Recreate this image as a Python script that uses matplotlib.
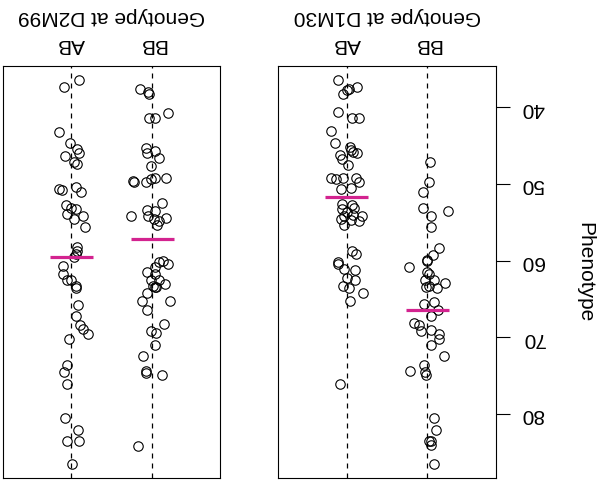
import numpy as np
import matplotlib
matplotlib.use("Agg")
import matplotlib.pyplot as plt

plt.rcParams['font.family'] = ['Liberation Sans', 'DejaVu Sans']

# -----------------------------
# Data (phenotype + horizontal jitter per genotype)
# -----------------------------
genotypes = ['AB', 'BB']
y_ticks = [40, 50, 60, 70, 80]

d2m99_ab = [36.4, 37.4, 43.2, 44.7, 45.4, 46.0, 46.4, 47.1, 47.4, 50.7, 50.8, 50.4,
            51.1, 52.8, 53.1, 53.3, 53.9, 54.2, 54.6, 55.6, 58.3, 58.7, 59.1, 59.5,
            60.7, 61.7, 62.6, 62.5, 63.3, 63.6, 65.8, 67.2, 68.4, 69.0, 69.6, 70.2,
            73.6, 74.5, 76.1, 80.5, 82.1, 83.6, 83.6, 86.5]
d2m99_ab_jit = [0.09, -0.09, -0.15, -0.02, 0.07, 0.09, -0.08, 0.03, 0.07, -0.15, -0.12, 0.06,
                0.12, -0.07, 0.0, 0.05, -0.06, 0.14, 0.03, 0.17, 0.07, 0.07, 0.05, 0.03,
                -0.11, -0.10, -0.06, 0.0, 0.05, 0.06, 0.08, 0.06, 0.10, 0.14, 0.21, -0.03,
                -0.05, -0.09, -0.05, -0.08, 0.08, -0.06, 0.09, 0.01]

d2m99_bb = [37.6, 38.0, 38.3, 40.7, 41.4, 41.4, 45.3, 46.0, 45.7, 46.6, 47.6, 49.6,
            49.8, 49.7, 49.3, 49.2, 49.2, 54.2, 53.4, 52.5, 53.5, 54.2, 54.6, 54.8,
            54.4, 55.4, 60.0, 60.5, 60.2, 60.9, 61.5, 61.8, 62.6, 62.5, 63.1, 63.3,
            63.5, 63.5, 64.3, 65.3, 65.3, 66.5, 68.3, 69.2, 69.5, 71.0, 72.5, 74.4,
            74.7, 75.0, 84.2]
d2m99_bb_jit = [-0.15, -0.05, -0.04, 0.20, -0.04, 0.03, -0.08, -0.07, 0.03, 0.08, -0.01, -0.24,
                -0.23, -0.08, -0.01, 0.03, 0.17, -0.26, -0.07, 0.12, 0.03, -0.05, 0.02, 0.08,
                0.17, 0.06, 0.13, 0.20, 0.08, 0.03, -0.07, 0.03, -0.01, 0.09, 0.16, 0.01,
                0.03, 0.05, -0.06, -0.13, 0.22, -0.07, 0.15, -0.02, 0.05, 0.03, -0.11, -0.08,
                -0.08, 0.12, -0.18]

d1m30_ab = [36.4, 37.3, 37.6, 37.8, 38.2, 40.6, 41.4, 41.4, 43.1, 44.7, 45.2, 45.6,
            45.9, 46.0, 46.2, 46.8, 47.5, 49.2, 49.4, 49.2, 49.2, 49.7, 50.5, 50.7,
            52.6, 52.7, 53.3, 53.7, 53.2, 54.2, 54.0, 54.2, 54.6, 54.7, 54.9, 55.3,
            58.7, 59.2, 60.2, 60.5, 61.1, 61.3, 62.3, 62.5, 63.3, 63.6, 64.2, 65.3, 76.1]
d1m30_ab_jit = [-0.10, 0.13, 0.03, 0.0, -0.04, -0.10, 0.07, 0.15, -0.19, -0.14, 0.04, 0.06,
                0.08, 0.13, -0.08, -0.06, 0.02, -0.19, -0.13, -0.05, 0.12, 0.15, 0.06, -0.07,
                -0.06, 0.07, -0.06, 0.01, 0.09, -0.03, 0.08, 0.19, -0.07, 0.05, 0.15, -0.03,
                0.07, 0.12, -0.11, -0.10, -0.03, 0.10, 0.01, 0.11, -0.05, 0.03, 0.20, 0.04, -0.08]

d1m30_bb = [47.2, 49.8, 51.1, 53.2, 54.2, 53.5, 55.6, 58.4, 59.3, 59.9, 60.1, 60.8,
            61.5, 61.8, 62.5, 62.6, 62.9, 63.3, 63.5, 63.6, 65.4, 65.7, 66.5, 67.2,
            68.2, 68.4, 69.2, 69.1, 69.6, 70.2, 71.0, 72.5, 73.6, 74.4, 74.6, 74.9,
            80.5, 82.1, 83.5, 83.6, 84.1, 86.5]
d1m30_bb_jit = [0.03, 0.02, -0.06, -0.05, 0.05, 0.25, 0.05, 0.14, 0.07, 0.0, 0.0, -0.23,
                0.0, 0.02, -0.03, 0.08, 0.22, 0.02, -0.02, 0.12, 0.08, -0.04, 0.13, 0.04,
                -0.17, -0.10, -0.08, 0.05, 0.14, 0.15, 0.04, 0.21, -0.04, -0.22, -0.03, -0.02,
                0.08, 0.11, 0.02, 0.05, 0.04, 0.08]

d2m99_means = [59.6, 57.2]
d1m30_means = [51.75, 66.5]

MEAN_COLOR = '#D3238F'
FS = 15


def draw_panel(ax, title, groups, jitters, means):
    for i, (vals, jit) in enumerate(zip(groups, jitters), start=1):
        ax.axvline(i, color='black', lw=0.9, ls=(0, (4, 4)), zorder=1)
        ax.plot(i + np.array(jit), vals, 'o', mfc='none', mec='black',
                ms=6.8, mew=0.8, zorder=2)
        ax.plot([i - 0.265, i + 0.265], [means[i - 1]] * 2, color=MEAN_COLOR,
                lw=2.3, solid_capstyle='butt', zorder=3)
    ax.set_xlim(0.155, 2.845)
    # picture is upside down: small phenotype values at the top
    ax.set_ylim(88.43, 34.57)
    for sp in ax.spines.values():
        sp.set_linewidth(0.8)
    ax.set_xticks([1, 2], genotypes)
    ax.tick_params(axis='x', top=True, bottom=False, labeltop=True,
                   labelbottom=False, length=0, pad=9, labelsize=FS,
                   labelrotation=180)
    ax.xaxis.set_label_position('top')
    ax.set_xlabel(title, fontsize=FS, rotation=180, labelpad=9.5)


fig = plt.figure(figsize=(6, 4.89), dpi=100)
ax_left = fig.add_axes([0.0055, 0.0198, 0.3617, 0.8438])
ax_right = fig.add_axes([0.4638, 0.0198, 0.3623, 0.8438])

draw_panel(ax_left, 'Genotype at D2M99', [d2m99_ab, d2m99_bb],
           [d2m99_ab_jit, d2m99_bb_jit], d2m99_means)
ax_left.set_yticks([])

draw_panel(ax_right, 'Genotype at D1M30', [d1m30_ab, d1m30_bb],
           [d1m30_ab_jit, d1m30_bb_jit], d1m30_means)
ax_right.yaxis.tick_right()
ax_right.set_yticks(y_ticks)
ax_right.tick_params(axis='y', direction='out', length=9.8, width=0.8,
                     pad=8.5, labelsize=FS, labelrotation=180)
for lbl in ax_right.get_yticklabels():
    lbl.set_va('center')

fig.text(585 / 600, 1 - 272.5 / 489, 'Phenotype', rotation=270,
         ha='center', va='center', fontsize=FS)

fig.savefig('out.png', dpi=100)
